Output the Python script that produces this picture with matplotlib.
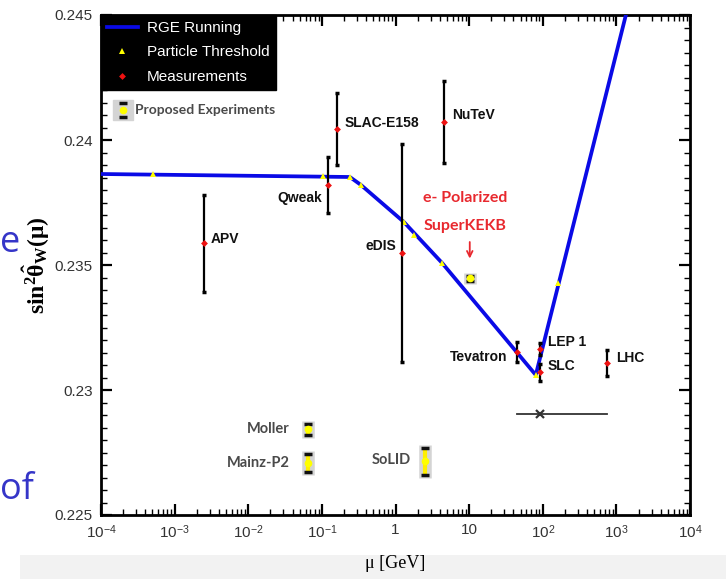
import matplotlib
matplotlib.use("Agg")
import matplotlib.pyplot as plt
from matplotlib.lines import Line2D
from matplotlib.patches import Rectangle

# RGE running curve
rge_mu = [1e-4, 0.24, 0.34, 1.3, 4.3, 80.4, 1400]
rge_val = [0.23864, 0.23852, 0.2382, 0.23672, 0.23508, 0.2306, 0.2452]

# particle thresholds on the curve
thr_mu = [5.1e-4, 0.105, 0.24, 0.34, 1.3, 1.8, 4.3, 80.4, 163]
thr_val = [0.23864, 0.23856, 0.23852, 0.2382, 0.23672, 0.2362, 0.23508, 0.2306, 0.23428]

# measurements
meas_names = ["APV", "Qweak", "SLAC-E158", "NuTeV", "eDIS", "Tevatron", "LEP 1", "SLC", "LHC"]
meas_mu = [2.5e-3, 0.12, 0.16, 4.6, 1.23, 45, 91.19, 91.19, 740]
meas_val = [0.23588, 0.2382, 0.24044, 0.24072, 0.23548, 0.23152, 0.23164, 0.23072, 0.23108]
meas_err = [0.00194, 0.00112, 0.00144, 0.00164, 0.00435, 0.0004, 0.00024, 0.00034, 0.00052]
meas_off = [(7, 4, "left"), (-6, -13, "right"), (8, 6, "left"), (8, 7, "left"), (-6, 7, "right"),
            (-10, -5, "right"), (8, 7, "left"), (8, 6, "left"), (9, 5, "left")]

# proposed experiments
prop_names = ["Moller", "Mainz-P2", "SoLID", ""]
prop_mu = [0.065, 0.065, 2.5, 10.2]
prop_val = [0.22844, 0.22708, 0.22716, 0.23448]
prop_err = [0.00022, 0.00036, 0.00054, 0.0001]
prop_off = [(-18, 0), (-18, 0), (-14, 1), (0, 0)]

# LEP/LHC scale bar
bar_mu = [45, 740]
bar_val = 0.22904
bar_mark = 91.19

xticks = [1e-4, 1e-3, 1e-2, 1e-1, 1, 10, 1e2, 1e3, 1e4]
xticklabels = [r"$10^{-4}$", r"$10^{-3}$", r"$10^{-2}$", r"$10^{-1}$", "1", "10",
               r"$10^{2}$", r"$10^{3}$", r"$10^{4}$"]
yticks = [0.225, 0.23, 0.235, 0.24, 0.245]

plt.rcParams["font.family"] = ["Liberation Sans", "DejaVu Sans"]
plt.rcParams["mathtext.fontset"] = "custom"
plt.rcParams["mathtext.rm"] = "Liberation Sans"
plt.rcParams["mathtext.it"] = "Liberation Serif"
plt.rcParams["mathtext.bf"] = "Liberation Serif:bold"

fig = plt.figure(figsize=(7.26, 5.79), dpi=100)
ax = fig.add_axes([101 / 726, 64 / 579, 589 / 726, 500 / 579])

# grey strip at the bottom of the slide
fig.patches.append(Rectangle((20 / 726, 0), 1, 24 / 579, transform=fig.transFigure,
                             facecolor="#f2f2f2", edgecolor="none", zorder=-5))
# slide text peeking in on the left
fig.text(0.5 / 726, 1 - 243 / 579, "e", color="#3535c8", fontsize=26, ha="left",
         va="center", family="Open Sans")
fig.text(0.5 / 726, 1 - 490 / 579, "of", color="#3535c8", fontsize=26, ha="left",
         va="center", family="Open Sans")

ax.set_xscale("log")
ax.set_xlim(1e-4, 1e4)
ax.set_ylim(0.225, 0.245)

rge_line, = ax.plot(rge_mu, rge_val, color="#0a0ae6", lw=2.7, zorder=3)
thr_pts, = ax.plot(thr_mu, thr_val, ls="none", marker="^", color="#ffff00", ms=4.5,
                   markeredgewidth=0, zorder=4)

ax.errorbar(meas_mu, meas_val, yerr=meas_err, fmt="none", ecolor="black", elinewidth=1.6,
            capsize=1.5, capthick=2.5, zorder=5)
meas_pts, = ax.plot(meas_mu, meas_val, ls="none", marker="D", color="#ee1111", ms=3.5,
                    markeredgewidth=0, zorder=6)
for name, x, y, (dx, dy, ha) in zip(meas_names, meas_mu, meas_val, meas_off):
    ax.annotate(name, (x, y), xytext=(dx, dy), textcoords="offset pixels", ha=ha,
                va="center", fontsize=10, fontweight="bold", color="#111111")

# proposed experiments: grey box, yellow bar, black caps
ax.errorbar(prop_mu, prop_val, yerr=[e + 0.00012 for e in prop_err], fmt="none",
            ecolor="#d4d4d4", elinewidth=9, capsize=0, zorder=4)
ax.errorbar(prop_mu, prop_val, yerr=prop_err, fmt="none", ecolor="#ffee00",
            elinewidth=3, capsize=0, zorder=5)
prop_eb = ax.errorbar(prop_mu, prop_val, yerr=prop_err, fmt="o", color="#ffff00", ms=4.5,
                      markeredgecolor="#ffff00", ecolor="#111111", elinewidth=0,
                      capsize=3.2, capthick=2.5, zorder=6)
for name, x, y, (dx, dy) in zip(prop_names, prop_mu, prop_val, prop_off):
    if name:
        ax.annotate(name, (x, y), xytext=(dx, dy), textcoords="offset pixels", ha="right",
                    va="center", fontsize=10.5, fontweight="bold", color="#4a4a4a",
                    family="Lato")

# SuperKEKB label and arrow
ax.annotate("", (prop_mu[3], prop_val[3]), xytext=(0, 36), textcoords="offset pixels",
            xycoords="data", arrowprops=dict(arrowstyle="->", color="#e8282e", lw=1.3,
                                             shrinkA=0, shrinkB=14))
ax.annotate("e- Polarized\nSuperKEKB", (prop_mu[3], prop_val[3]), xytext=(-5, 66),
            textcoords="offset pixels", ha="center", va="center", fontsize=11.5,
            fontweight="bold", color="#e8282e", family="Lato", linespacing=2.2)

# scale bar
ax.plot(bar_mu, [bar_val, bar_val], color="#333333", lw=1.3, zorder=3)
ax.plot([bar_mark], [bar_val], marker="x", color="#333333", ms=6, mew=1.6, zorder=3)

# legends
leg = ax.legend([rge_line, thr_pts, meas_pts],
                ["RGE Running", "Particle Threshold", "Measurements"],
                loc="upper left", bbox_to_anchor=(0, 1), borderaxespad=0, frameon=True,
                facecolor="black", edgecolor="black", framealpha=1, fancybox=False,
                labelcolor="white", fontsize=11, handlelength=2.0, borderpad=0.4,
                labelspacing=0.68, handletextpad=0.6)
ax.add_artist(leg)
gray_sq = Line2D([], [], marker="s", color="#d4d4d4", ms=14, ls="none")
ax.legend([(gray_sq, prop_eb)], ["Proposed Experiments"], loc="upper left",
          bbox_to_anchor=(0.005, 0.846), frameon=False, handlelength=1.0, handletextpad=0.35,
          prop=dict(family="Lato", weight="bold", size=10), labelcolor="#4a4a4a")

# axes styling
ax.set_xticks(xticks)
ax.set_xticklabels(xticklabels)
ax.set_yticks(yticks)
ax.set_yticklabels(["0.225", "0.23", "0.235", "0.24", "0.245"])
ax.yaxis.set_minor_locator(matplotlib.ticker.MultipleLocator(0.0005))
ax.tick_params(which="both", direction="in", top=True, right=True, colors="black",
               labelcolor="#333333", labelsize=11)
ax.tick_params(which="major", length=8, width=1.6, pad=6)
ax.tick_params(which="minor", length=4, width=1.0)
for s in ax.spines.values():
    s.set_linewidth(2)

ax.set_ylabel(r"$\mathbf{sin^2\hat{\theta}_W(\mu)}$", fontsize=17)
ax.yaxis.set_label_coords(-0.084, 0.5)
ax.set_xlabel("\u03bc [GeV]", fontsize=13, family="Liberation Serif")
ax.xaxis.set_label_coords(0.5, -0.08)

fig.savefig("out.png", dpi=100)
